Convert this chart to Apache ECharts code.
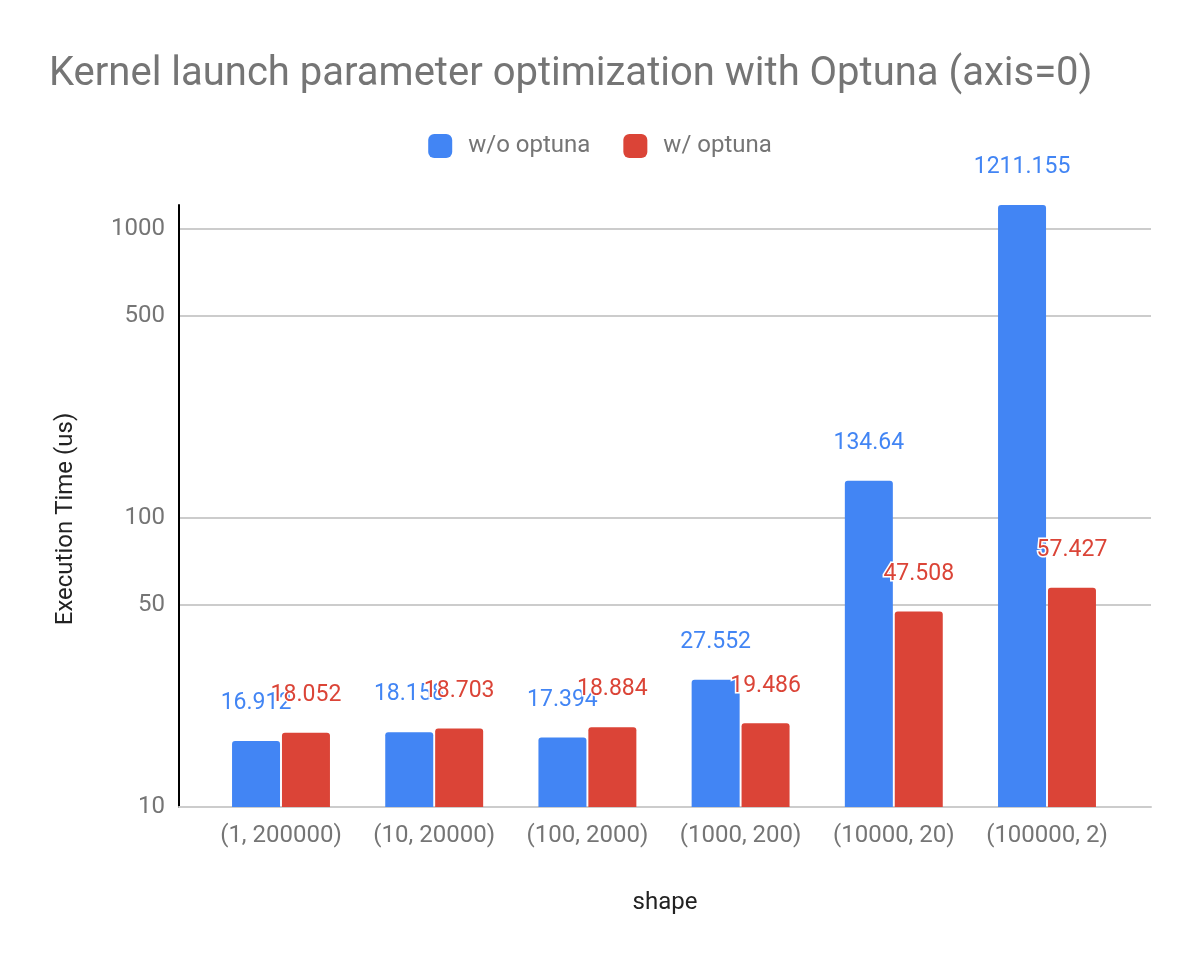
<!DOCTYPE html>
<html>
<head>
<meta charset="utf-8">
<script src="https://cdn.jsdelivr.net/npm/echarts@6/dist/echarts.min.js"></script>
<style>
  html, body { margin: 0; padding: 0; background: #fff; }
  #root { width: 1200px; height: 964px; }
</style>
</head>
<body>
<div id="root"></div>
<script>
// values
var shapes = ['(1, 200000)', '(10, 20000)', '(100, 2000)', '(1000, 200)', '(10000, 20)', '(100000, 2)'];
var withoutOptuna = [16.912, 18.158, 17.394, 27.552, 134.64, 1211.155];
var withOptuna = [18.052, 18.703, 18.884, 19.486, 47.508, 57.427];
var yTicks = [10, 50, 100, 500, 1000];

var grey = '#757575';
var font = 'Roboto';
var chart = echarts.init(document.getElementById('root'));

function barLabel(color) {
  return {
    show: true,
    position: 'top',
    distance: 26,
    color: color,
    fontFamily: font,
    fontSize: 23,
    textBorderColor: '#fff',
    textBorderWidth: 3,
    formatter: function (p) { return p.value; }
  };
}

var option = {
  animation: false,
  title: {
    text: 'Kernel launch parameter optimization with Optuna (axis=0)',
    left: 44,
    top: 50,
    textStyle: { color: grey, fontFamily: font, fontSize: 40, fontWeight: 'normal' }
  },
  legend: {
    top: 129,
    left: 'center',
    itemWidth: 24,
    itemHeight: 24,
    itemGap: 33,
    icon: 'roundRect',
    textStyle: { color: grey, fontFamily: font, fontSize: 24, padding: [0, 0, 0, 11] },
    data: ['w/o optuna', 'w/ optuna']
  },
  grid: [
    { left: 179, right: 49, top: 205, bottom: 157 },
    { left: 204.4, right: 76.4, top: 205, bottom: 157 }
  ],
  xAxis: [
    {
      gridIndex: 0, type: 'value', min: 0, max: 1,
      name: 'shape', nameLocation: 'middle', nameGap: 84,
      nameTextStyle: { color: '#222', fontFamily: font, fontSize: 24 },
      axisLine: { show: true, lineStyle: { color: '#ccc', width: 2 } },
      axisTick: { show: false }, axisLabel: { show: false }, splitLine: { show: false }
    },
    {
      gridIndex: 1, type: 'category', data: shapes,
      axisLine: { show: false }, axisTick: { show: false },
      axisLabel: { color: grey, fontFamily: font, fontSize: 24, margin: 17, interval: 0, hideOverlap: false }
    }
  ],
  yAxis: [
    {
      gridIndex: 0, type: 'log', min: 10, max: 1211.155,
      name: 'Execution Time (us)', nameLocation: 'middle', nameGap: 101,
      nameTextStyle: { color: '#222', fontFamily: font, fontSize: 24, padding: [0, 26, 0, 0] },
      axisLine: { show: true, lineStyle: { color: '#000', width: 2 } },
      axisTick: { show: false, customValues: yTicks },
      axisLabel: {
        color: grey, fontFamily: font, fontSize: 24, margin: 14, customValues: yTicks,
        formatter: function (v) { return String(v); }
      },
      splitLine: { show: true, lineStyle: { color: '#ccc', width: 2 } }
    },
    {
      gridIndex: 1, type: 'log', min: 10, max: 1211.155, show: false,
      splitLine: { show: false }
    }
  ],
  series: [
    {
      name: 'w/o optuna', type: 'bar', xAxisIndex: 1, yAxisIndex: 1,
      data: withoutOptuna, barWidth: 48, barGap: '4%',
      itemStyle: { color: '#4285F4', borderRadius: [3, 3, 0, 0] },
      label: barLabel('#4285F4')
    },
    {
      name: 'w/ optuna', type: 'bar', xAxisIndex: 1, yAxisIndex: 1,
      data: withOptuna, barWidth: 48, barGap: '4%',
      itemStyle: { color: '#DB4437', borderRadius: [3, 3, 0, 0] },
      label: barLabel('#DB4437')
    }
  ]
};
chart.setOption(option);
</script>
</body>
</html>
